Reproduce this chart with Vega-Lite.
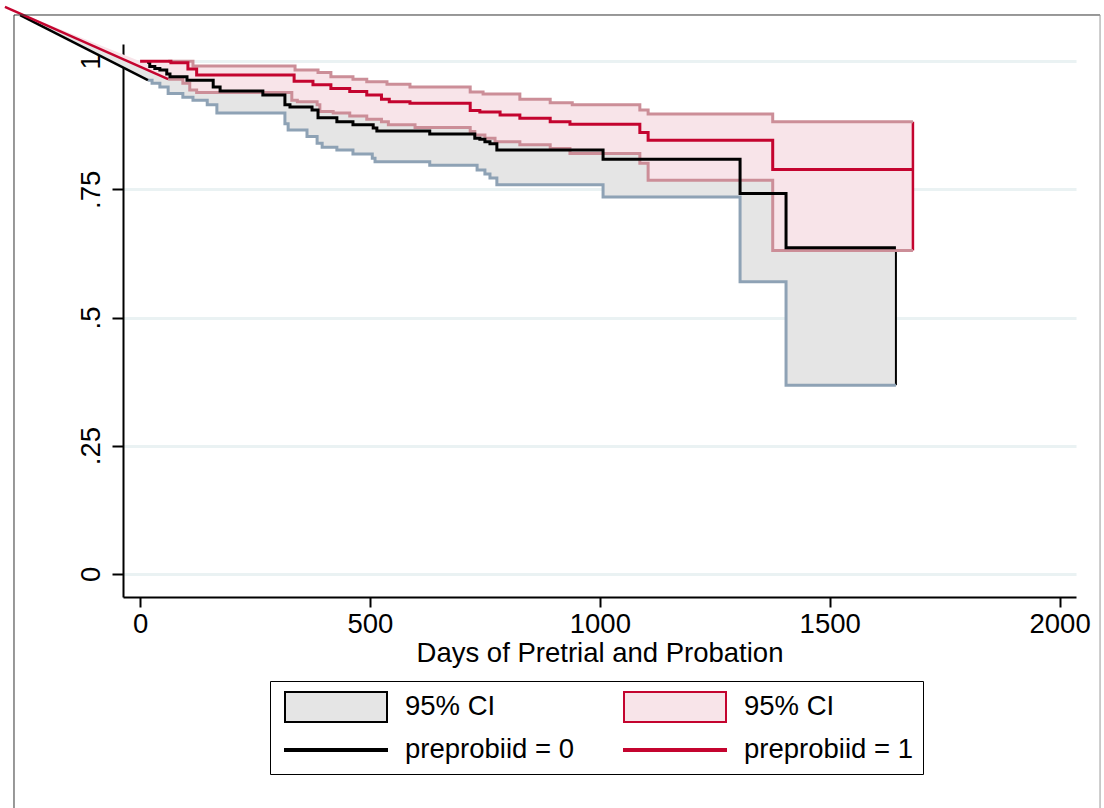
{
  "$schema": "https://vega.github.io/schema/vega-lite/v6.json",
  "width": 953,
  "height": 553,
  "autosize": {"type": "none"},
  "padding": {"left": 123, "top": 44, "right": 28, "bottom": 211},
  "background": "white",
  "config": {
    "view": {"stroke": null},
    "font": "Liberation Sans",
    "axisX": {
      "grid": false,
      "domainColor": "black", "domainWidth": 2,
      "tickColor": "black", "tickWidth": 2, "tickSize": 10,
      "labelFont": "Liberation Sans", "labelFontSize": 27.5, "labelColor": "black",
      "labelPadding": 3, "labelFlush": false, "labelOverlap": false,
      "titleFont": "Liberation Sans", "titleFontSize": 27.5, "titleFontWeight": "normal",
      "titleColor": "black", "titlePadding": 2
    },
    "axisY": {
      "grid": true, "gridColor": "#eaf2f3", "gridWidth": 3,
      "domainColor": "black", "domainWidth": 2,
      "tickColor": "black", "tickWidth": 2, "tickSize": 11,
      "labelFont": "Liberation Sans", "labelFontSize": 27.5, "labelColor": "black",
      "labelAngle": 270, "labelAlign": "center", "labelBaseline": "bottom",
      "labelPadding": 7, "labelFlush": false, "labelOverlap": false
    }
  },
  "datasets": {
    "s": [
      {"g": 0, "day": 15, "v": 0.998}, {"g": 0, "day": 21, "v": 0.990}, {"g": 0, "day": 32, "v": 0.986},
      {"g": 0, "day": 43, "v": 0.983}, {"g": 0, "day": 58, "v": 0.975}, {"g": 0, "day": 65, "v": 0.970},
      {"g": 0, "day": 102, "v": 0.963}, {"g": 0, "day": 159, "v": 0.950}, {"g": 0, "day": 174, "v": 0.942},
      {"g": 0, "day": 267, "v": 0.934}, {"g": 0, "day": 315, "v": 0.915}, {"g": 0, "day": 326, "v": 0.911},
      {"g": 0, "day": 374, "v": 0.905}, {"g": 0, "day": 387, "v": 0.890}, {"g": 0, "day": 428, "v": 0.882},
      {"g": 0, "day": 463, "v": 0.876}, {"g": 0, "day": 507, "v": 0.870}, {"g": 0, "day": 515, "v": 0.864},
      {"g": 0, "day": 630, "v": 0.858}, {"g": 0, "day": 728, "v": 0.850}, {"g": 0, "day": 739, "v": 0.848},
      {"g": 0, "day": 750, "v": 0.843}, {"g": 0, "day": 761, "v": 0.839}, {"g": 0, "day": 776, "v": 0.827},
      {"g": 0, "day": 1007, "v": 0.809}, {"g": 0, "day": 1305, "v": 0.742}, {"g": 0, "day": 1405, "v": 0.636},
      {"g": 0, "day": 1644, "v": 0.636},
      {"g": 1, "day": 0, "v": 1.0}, {"g": 1, "day": 67, "v": 0.997}, {"g": 1, "day": 104, "v": 0.985},
      {"g": 1, "day": 123, "v": 0.973}, {"g": 1, "day": 335, "v": 0.961}, {"g": 1, "day": 376, "v": 0.954},
      {"g": 1, "day": 415, "v": 0.947}, {"g": 1, "day": 456, "v": 0.941}, {"g": 1, "day": 493, "v": 0.934},
      {"g": 1, "day": 525, "v": 0.926}, {"g": 1, "day": 542, "v": 0.921}, {"g": 1, "day": 587, "v": 0.918},
      {"g": 1, "day": 718, "v": 0.904}, {"g": 1, "day": 739, "v": 0.901}, {"g": 1, "day": 783, "v": 0.895},
      {"g": 1, "day": 826, "v": 0.889}, {"g": 1, "day": 892, "v": 0.882}, {"g": 1, "day": 935, "v": 0.877},
      {"g": 1, "day": 1087, "v": 0.861}, {"g": 1, "day": 1105, "v": 0.846}, {"g": 1, "day": 1376, "v": 0.789},
      {"g": 1, "day": 1681, "v": 0.789}
    ],
    "ci": [
      {"g": 0, "day": 17, "lo": 0.963, "hi": 1.0}, {"g": 0, "day": 26, "lo": 0.957, "hi": 1.0},
      {"g": 0, "day": 43, "lo": 0.950, "hi": 1.0}, {"g": 0, "day": 61, "lo": 0.937, "hi": 0.995},
      {"g": 0, "day": 93, "lo": 0.930, "hi": 0.995}, {"g": 0, "day": 115, "lo": 0.924, "hi": 0.985},
      {"g": 0, "day": 146, "lo": 0.915, "hi": 0.985}, {"g": 0, "day": 159, "lo": 0.915, "hi": 0.98},
      {"g": 0, "day": 167, "lo": 0.899, "hi": 0.98}, {"g": 0, "day": 315, "lo": 0.878, "hi": 0.955},
      {"g": 0, "day": 322, "lo": 0.866, "hi": 0.955}, {"g": 0, "day": 363, "lo": 0.853, "hi": 0.955},
      {"g": 0, "day": 385, "lo": 0.840, "hi": 0.955}, {"g": 0, "day": 387, "lo": 0.840, "hi": 0.94},
      {"g": 0, "day": 396, "lo": 0.832, "hi": 0.94}, {"g": 0, "day": 428, "lo": 0.827, "hi": 0.94},
      {"g": 0, "day": 463, "lo": 0.819, "hi": 0.94}, {"g": 0, "day": 505, "lo": 0.811, "hi": 0.94},
      {"g": 0, "day": 511, "lo": 0.804, "hi": 0.94}, {"g": 0, "day": 515, "lo": 0.804, "hi": 0.93},
      {"g": 0, "day": 630, "lo": 0.797, "hi": 0.93}, {"g": 0, "day": 733, "lo": 0.788, "hi": 0.93},
      {"g": 0, "day": 750, "lo": 0.780, "hi": 0.93}, {"g": 0, "day": 761, "lo": 0.772, "hi": 0.93},
      {"g": 0, "day": 776, "lo": 0.759, "hi": 0.895}, {"g": 0, "day": 1007, "lo": 0.735, "hi": 0.88},
      {"g": 0, "day": 1305, "lo": 0.570, "hi": 0.83}, {"g": 0, "day": 1405, "lo": 0.368, "hi": 0.81},
      {"g": 0, "day": 1644, "lo": 0.368, "hi": 0.81},
      {"g": 1, "day": 61, "lo": 0.965, "hi": 1.0}, {"g": 1, "day": 93, "lo": 0.957, "hi": 1.0},
      {"g": 1, "day": 108, "lo": 0.944, "hi": 1.0}, {"g": 1, "day": 115, "lo": 0.944, "hi": 0.991},
      {"g": 1, "day": 123, "lo": 0.939, "hi": 0.991}, {"g": 1, "day": 330, "lo": 0.924, "hi": 0.991},
      {"g": 1, "day": 337, "lo": 0.924, "hi": 0.983}, {"g": 1, "day": 342, "lo": 0.921, "hi": 0.983},
      {"g": 1, "day": 385, "lo": 0.915, "hi": 0.983}, {"g": 1, "day": 387, "lo": 0.915, "hi": 0.978},
      {"g": 1, "day": 391, "lo": 0.902, "hi": 0.978}, {"g": 1, "day": 415, "lo": 0.902, "hi": 0.970},
      {"g": 1, "day": 420, "lo": 0.899, "hi": 0.970}, {"g": 1, "day": 456, "lo": 0.893, "hi": 0.970},
      {"g": 1, "day": 463, "lo": 0.893, "hi": 0.965}, {"g": 1, "day": 493, "lo": 0.887, "hi": 0.960},
      {"g": 1, "day": 525, "lo": 0.882, "hi": 0.960}, {"g": 1, "day": 537, "lo": 0.882, "hi": 0.955},
      {"g": 1, "day": 540, "lo": 0.876, "hi": 0.955}, {"g": 1, "day": 587, "lo": 0.876, "hi": 0.950},
      {"g": 1, "day": 598, "lo": 0.871, "hi": 0.950}, {"g": 1, "day": 718, "lo": 0.863, "hi": 0.940},
      {"g": 1, "day": 728, "lo": 0.856, "hi": 0.940}, {"g": 1, "day": 746, "lo": 0.856, "hi": 0.936},
      {"g": 1, "day": 750, "lo": 0.850, "hi": 0.936}, {"g": 1, "day": 772, "lo": 0.843, "hi": 0.936},
      {"g": 1, "day": 826, "lo": 0.837, "hi": 0.926}, {"g": 1, "day": 892, "lo": 0.830, "hi": 0.919},
      {"g": 1, "day": 935, "lo": 0.820, "hi": 0.919}, {"g": 1, "day": 940, "lo": 0.820, "hi": 0.915},
      {"g": 1, "day": 1087, "lo": 0.801, "hi": 0.905}, {"g": 1, "day": 1105, "lo": 0.768, "hi": 0.897},
      {"g": 1, "day": 1376, "lo": 0.631, "hi": 0.882}, {"g": 1, "day": 1681, "lo": 0.631, "hi": 0.882}
    ],
    "art": [
      {"g": 0, "k": 1, "day": -261, "v": 1.090}, {"g": 0, "k": 2, "day": 17, "v": 0.99},
      {"g": 0, "k": 3, "day": 17, "v": 0.963},
      {"g": 1, "k": 1, "day": -294, "v": 1.106}, {"g": 1, "k": 2, "day": 0, "v": 1.0},
      {"g": 1, "k": 3, "day": 61, "v": 1.0}, {"g": 1, "k": 4, "day": 61, "v": 0.965}
    ],
    "diag": [
      {"g": 0, "day": -261, "v": 1.090}, {"g": 0, "day": 17, "v": 0.963},
      {"g": 1, "day": -294, "v": 1.106}, {"g": 1, "day": 61, "v": 0.965}
    ],
    "leg": [{"e": "ci0"}, {"e": "ci1"}, {"e": "s0"}, {"e": "s1"}]
  },
  "layer": [
    {
      "data": {"name": "art"},
      "transform": [{"filter": "datum.g == 0"}],
      "mark": {"type": "line", "fill": "#e5e5e5", "strokeWidth": 0, "clip": false},
      "encoding": {
        "x": {"field": "day", "type": "quantitative", "scale": {"domain": [-37.2, 2035.7], "nice": false, "zero": false}, "title": "Days of Pretrial and Probation", "axis": {"values": [0, 500, 1000, 1500, 2000], "format": "d"}},
        "y": {"field": "v", "type": "quantitative", "title": null, "scale": {"domain": [-0.0453, 1.0337], "nice": false, "zero": false}, "axis": {"values": [0, 0.25, 0.5, 0.75, 1], "labelExpr": "datum.value == 0 ? '0' : datum.value == 1 ? '1' : replace(format(datum.value, '.2~f'), '0.', '.')"}},
        "order": {"field": "k", "type": "quantitative"}
      }
    },
    {
      "data": {"name": "ci"},
      "transform": [{"filter": "datum.g == 0"}],
      "mark": {"type": "area", "interpolate": "step-after", "fill": "#e5e5e5"},
      "encoding": {
        "x": {"field": "day", "type": "quantitative", "scale": {"domain": [-37.2, 2035.7], "nice": false, "zero": false}, "title": "Days of Pretrial and Probation", "axis": {"values": [0, 500, 1000, 1500, 2000], "format": "d"}},
        "y": {"field": "lo", "type": "quantitative", "title": null, "scale": {"domain": [-0.0453, 1.0337], "nice": false, "zero": false}, "axis": {"values": [0, 0.25, 0.5, 0.75, 1], "labelExpr": "datum.value == 0 ? '0' : datum.value == 1 ? '1' : replace(format(datum.value, '.2~f'), '0.', '.')"}},
        "y2": {"field": "hi"}
      }
    },
    {
      "data": {"name": "ci"},
      "transform": [{"filter": "datum.g == 0 && datum.day == 1644"}],
      "mark": {"type": "rule", "color": "black", "strokeWidth": 2},
      "encoding": {
        "x": {"field": "day", "type": "quantitative", "scale": {"domain": [-37.2, 2035.7], "nice": false, "zero": false}, "title": "Days of Pretrial and Probation", "axis": {"values": [0, 500, 1000, 1500, 2000], "format": "d"}},
        "y": {"field": "lo", "type": "quantitative", "title": null, "scale": {"domain": [-0.0453, 1.0337], "nice": false, "zero": false}, "axis": {"values": [0, 0.25, 0.5, 0.75, 1], "labelExpr": "datum.value == 0 ? '0' : datum.value == 1 ? '1' : replace(format(datum.value, '.2~f'), '0.', '.')"}},
        "y2": {"field": "hi"}
      }
    },
    {
      "data": {"name": "art"},
      "transform": [{"filter": "datum.g == 1"}],
      "mark": {"type": "line", "fill": "#f8e4e9", "strokeWidth": 0, "clip": false},
      "encoding": {
        "x": {"field": "day", "type": "quantitative", "scale": {"domain": [-37.2, 2035.7], "nice": false, "zero": false}, "title": "Days of Pretrial and Probation", "axis": {"values": [0, 500, 1000, 1500, 2000], "format": "d"}},
        "y": {"field": "v", "type": "quantitative", "title": null, "scale": {"domain": [-0.0453, 1.0337], "nice": false, "zero": false}, "axis": {"values": [0, 0.25, 0.5, 0.75, 1], "labelExpr": "datum.value == 0 ? '0' : datum.value == 1 ? '1' : replace(format(datum.value, '.2~f'), '0.', '.')"}},
        "order": {"field": "k", "type": "quantitative"}
      }
    },
    {
      "data": {"name": "ci"},
      "transform": [{"filter": "datum.g == 1"}],
      "mark": {"type": "area", "interpolate": "step-after", "fill": "#f8e4e9"},
      "encoding": {
        "x": {"field": "day", "type": "quantitative", "scale": {"domain": [-37.2, 2035.7], "nice": false, "zero": false}, "title": "Days of Pretrial and Probation", "axis": {"values": [0, 500, 1000, 1500, 2000], "format": "d"}},
        "y": {"field": "lo", "type": "quantitative", "title": null, "scale": {"domain": [-0.0453, 1.0337], "nice": false, "zero": false}, "axis": {"values": [0, 0.25, 0.5, 0.75, 1], "labelExpr": "datum.value == 0 ? '0' : datum.value == 1 ? '1' : replace(format(datum.value, '.2~f'), '0.', '.')"}},
        "y2": {"field": "hi"}
      }
    },
    {
      "data": {"name": "ci"},
      "transform": [{"filter": "datum.g == 1 && datum.day == 1681"}],
      "mark": {"type": "rule", "color": "#c4042f", "strokeWidth": 2.5},
      "encoding": {
        "x": {"field": "day", "type": "quantitative", "scale": {"domain": [-37.2, 2035.7], "nice": false, "zero": false}, "title": "Days of Pretrial and Probation", "axis": {"values": [0, 500, 1000, 1500, 2000], "format": "d"}},
        "y": {"field": "lo", "type": "quantitative", "title": null, "scale": {"domain": [-0.0453, 1.0337], "nice": false, "zero": false}, "axis": {"values": [0, 0.25, 0.5, 0.75, 1], "labelExpr": "datum.value == 0 ? '0' : datum.value == 1 ? '1' : replace(format(datum.value, '.2~f'), '0.', '.')"}},
        "y2": {"field": "hi"}
      }
    },
    {
      "data": {"name": "ci"},
      "transform": [{"filter": "datum.g == 0"}],
      "mark": {"type": "line", "interpolate": "step-after", "color": "#8ea2b5", "strokeWidth": 3},
      "encoding": {
        "x": {"field": "day", "type": "quantitative", "scale": {"domain": [-37.2, 2035.7], "nice": false, "zero": false}, "title": "Days of Pretrial and Probation", "axis": {"values": [0, 500, 1000, 1500, 2000], "format": "d"}},
        "y": {"field": "lo", "type": "quantitative", "title": null, "scale": {"domain": [-0.0453, 1.0337], "nice": false, "zero": false}, "axis": {"values": [0, 0.25, 0.5, 0.75, 1], "labelExpr": "datum.value == 0 ? '0' : datum.value == 1 ? '1' : replace(format(datum.value, '.2~f'), '0.', '.')"}}
      }
    },
    {
      "data": {"name": "ci"},
      "transform": [{"filter": "datum.g == 1"}],
      "mark": {"type": "line", "interpolate": "step-after", "color": "#cc8e98", "strokeWidth": 3},
      "encoding": {
        "x": {"field": "day", "type": "quantitative", "scale": {"domain": [-37.2, 2035.7], "nice": false, "zero": false}, "title": "Days of Pretrial and Probation", "axis": {"values": [0, 500, 1000, 1500, 2000], "format": "d"}},
        "y": {"field": "lo", "type": "quantitative", "title": null, "scale": {"domain": [-0.0453, 1.0337], "nice": false, "zero": false}, "axis": {"values": [0, 0.25, 0.5, 0.75, 1], "labelExpr": "datum.value == 0 ? '0' : datum.value == 1 ? '1' : replace(format(datum.value, '.2~f'), '0.', '.')"}}
      }
    },
    {
      "data": {"name": "ci"},
      "transform": [{"filter": "datum.g == 1"}],
      "mark": {"type": "line", "interpolate": "step-after", "color": "#cc8e98", "strokeWidth": 3},
      "encoding": {
        "x": {"field": "day", "type": "quantitative", "scale": {"domain": [-37.2, 2035.7], "nice": false, "zero": false}, "title": "Days of Pretrial and Probation", "axis": {"values": [0, 500, 1000, 1500, 2000], "format": "d"}},
        "y": {"field": "hi", "type": "quantitative", "title": null, "scale": {"domain": [-0.0453, 1.0337], "nice": false, "zero": false}, "axis": {"values": [0, 0.25, 0.5, 0.75, 1], "labelExpr": "datum.value == 0 ? '0' : datum.value == 1 ? '1' : replace(format(datum.value, '.2~f'), '0.', '.')"}}
      }
    },
    {
      "data": {"name": "diag"},
      "mark": {"type": "line", "strokeWidth": 2.5, "clip": false},
      "encoding": {
        "x": {"field": "day", "type": "quantitative", "scale": {"domain": [-37.2, 2035.7], "nice": false, "zero": false}, "title": "Days of Pretrial and Probation", "axis": {"values": [0, 500, 1000, 1500, 2000], "format": "d"}},
        "y": {"field": "v", "type": "quantitative", "title": null, "scale": {"domain": [-0.0453, 1.0337], "nice": false, "zero": false}, "axis": {"values": [0, 0.25, 0.5, 0.75, 1], "labelExpr": "datum.value == 0 ? '0' : datum.value == 1 ? '1' : replace(format(datum.value, '.2~f'), '0.', '.')"}},
        "color": {"field": "g", "type": "nominal", "scale": {"domain": [0, 1], "range": ["black", "#c4042f"]}, "legend": null}
      }
    },
    {
      "data": {"name": "s"},
      "mark": {"type": "line", "interpolate": "step-after", "strokeWidth": 3},
      "encoding": {
        "x": {"field": "day", "type": "quantitative", "scale": {"domain": [-37.2, 2035.7], "nice": false, "zero": false}, "title": "Days of Pretrial and Probation", "axis": {"values": [0, 500, 1000, 1500, 2000], "format": "d"}},
        "y": {"field": "v", "type": "quantitative", "title": null, "scale": {"domain": [-0.0453, 1.0337], "nice": false, "zero": false}, "axis": {"values": [0, 0.25, 0.5, 0.75, 1], "labelExpr": "datum.value == 0 ? '0' : datum.value == 1 ? '1' : replace(format(datum.value, '.2~f'), '0.', '.')"}},
        "color": {"field": "g", "type": "nominal", "scale": {"domain": [0, 1], "range": ["black", "#c4042f"]}, "legend": null}
      }
    },
    {
      "data": {"values": [{"f": 1}]},
      "mark": {"type": "rule", "color": "#333333", "strokeWidth": 1, "clip": false},
      "encoding": {
        "x": {"datum": -274.3, "type": "quantitative", "scale": {"domain": [-37.2, 2035.7], "nice": false, "zero": false}, "title": "Days of Pretrial and Probation", "axis": {"values": [0, 500, 1000, 1500, 2000], "format": "d"}},
        "y": {"datum": -0.6, "type": "quantitative", "title": null, "scale": {"domain": [-0.0453, 1.0337], "nice": false, "zero": false}, "axis": {"values": [0, 0.25, 0.5, 0.75, 1], "labelExpr": "datum.value == 0 ? '0' : datum.value == 1 ? '1' : replace(format(datum.value, '.2~f'), '0.', '.')"}},
        "y2": {"datum": 1.0903}
      }
    },
    {
      "data": {"values": [{"f": 1}]},
      "mark": {"type": "rule", "color": "#333333", "strokeWidth": 1, "clip": false},
      "encoding": {
        "x": {"datum": -274.3, "type": "quantitative", "scale": {"domain": [-37.2, 2035.7], "nice": false, "zero": false}, "title": "Days of Pretrial and Probation", "axis": {"values": [0, 500, 1000, 1500, 2000], "format": "d"}},
        "x2": {"datum": 2088},
        "y": {"datum": 1.0903, "type": "quantitative", "title": null, "scale": {"domain": [-0.0453, 1.0337], "nice": false, "zero": false}, "axis": {"values": [0, 0.25, 0.5, 0.75, 1], "labelExpr": "datum.value == 0 ? '0' : datum.value == 1 ? '1' : replace(format(datum.value, '.2~f'), '0.', '.')"}}
      }
    },
    {
      "data": {"values": [{"f": 1}]},
      "mark": {"type": "rule", "color": "#999999", "strokeWidth": 1, "clip": false},
      "encoding": {
        "x": {"datum": 2088, "type": "quantitative", "scale": {"domain": [-37.2, 2035.7], "nice": false, "zero": false}, "title": "Days of Pretrial and Probation", "axis": {"values": [0, 500, 1000, 1500, 2000], "format": "d"}},
        "y": {"datum": -0.6, "type": "quantitative", "title": null, "scale": {"domain": [-0.0453, 1.0337], "nice": false, "zero": false}, "axis": {"values": [0, 0.25, 0.5, 0.75, 1], "labelExpr": "datum.value == 0 ? '0' : datum.value == 1 ? '1' : replace(format(datum.value, '.2~f'), '0.', '.')"}},
        "y2": {"datum": 1.0903}
      }
    },
    {
      "data": {"name": "leg"},
      "mark": {"type": "point", "size": 0, "filled": true, "opacity": 1},
      "encoding": {
        "x": {"datum": 1000, "type": "quantitative", "scale": {"domain": [-37.2, 2035.7], "nice": false, "zero": false}, "title": "Days of Pretrial and Probation", "axis": {"values": [0, 500, 1000, 1500, 2000], "format": "d"}},
        "y": {"datum": 0.5, "type": "quantitative", "title": null, "scale": {"domain": [-0.0453, 1.0337], "nice": false, "zero": false}, "axis": {"values": [0, 0.25, 0.5, 0.75, 1], "labelExpr": "datum.value == 0 ? '0' : datum.value == 1 ? '1' : replace(format(datum.value, '.2~f'), '0.', '.')"}},
        "fill": {
          "field": "e", "type": "nominal",
          "scale": {"domain": ["ci0", "ci1", "s0", "s1"], "range": ["#e5e5e5", "#f8e4e9", "black", "#c4042f"]},
          "legend": {
            "title": null,
            "orient": "none", "legendX": 147, "legendY": 637,
            "direction": "horizontal",
            "columns": 2, "columnPadding": 45, "rowPadding": 8,
            "padding": 10, "strokeColor": "black",
            "symbolSize": 900, "symbolStrokeWidth": 2, "symbolOpacity": 1, "symbolOffset": 40,
            "labelFont": "Liberation Sans", "labelFontSize": 27.5, "labelColor": "black",
            "labelOffset": 53, "labelLimit": 400,
            "labelExpr": "datum.value == 'ci0' || datum.value == 'ci1' ? '95% CI' : datum.value == 's0' ? 'preprobiid = 0' : 'preprobiid = 1'"
          }
        },
        "stroke": {
          "field": "e", "type": "nominal",
          "scale": {"domain": ["ci0", "ci1", "s0", "s1"], "range": ["black", "#c4042f", "black", "#c4042f"]}
        },
        "shape": {
          "field": "e", "type": "nominal",
          "scale": {"domain": ["ci0", "ci1", "s0", "s1"], "range": ["M-3.4,-1H3.4V1H-3.4Z", "M-3.4,-1H3.4V1H-3.4Z", "M-3.4,-0.07H3.4V0.07H-3.4Z", "M-3.4,-0.07H3.4V0.07H-3.4Z"]}
        }
      }
    }
  ]
}
